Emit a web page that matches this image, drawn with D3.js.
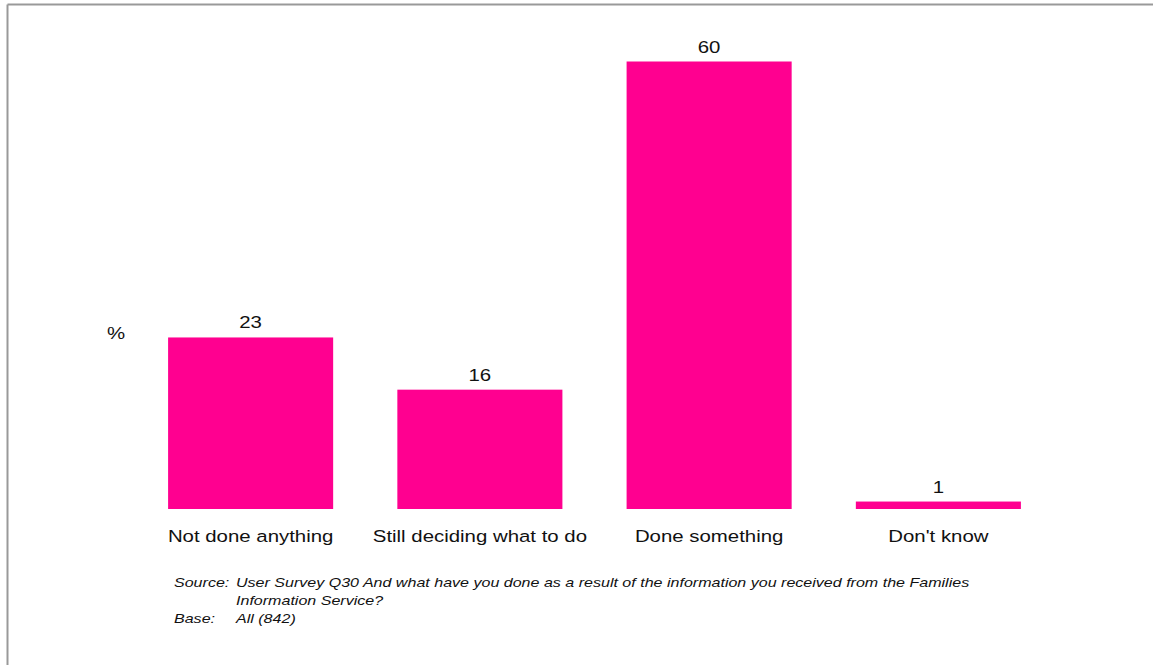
<!DOCTYPE html>
<html>
<head>
<meta charset="utf-8">
<script src="https://cdn.jsdelivr.net/npm/d3@7"></script>
<style>
  html, body { margin: 0; padding: 0; background: #fff; }
  svg { display: block; font-family: "Liberation Sans", Arial, sans-serif; }
</style>
</head>
<body>
<svg id="chart" width="1153" height="665"></svg>
<script>
// Survey responses: what people did after receiving FIS information (%)
const categories = ["Not done anything", "Still deciding what to do", "Done something", "Don't know"];
const values = [23, 16, 60, 1];
const unitLabel = "%";
const sourceLines = [
  ["Source:", "User Survey Q30 And what have you done as a result of the information you received from the Families"],
  ["", "Information Service?"],
  ["Base:", "All (842)"]
];

const svg = d3.select("#chart");
const W = 1153, H = 665;
const stretch = 1.2;      // text is set slightly wide
const noteStretch = 1.235;

// Frame lines (top and left)
svg.append("line").attr("x1", 7.5).attr("x2", W).attr("y1", 4.5).attr("y2", 4.5)
  .attr("stroke", "#999").attr("stroke-width", 2);
svg.append("line").attr("x1", 7.5).attr("x2", 7.5).attr("y1", 4.5).attr("y2", H)
  .attr("stroke", "#999").attr("stroke-width", 2);

const x = d3.scaleBand().domain(categories).range([136, 1053]).paddingInner(0.28).paddingOuter(0.14);
const y = d3.scaleLinear().domain([0, 60]).range([509, 61.5]);

const pink = "#ff0090";

svg.append("g").selectAll("rect").data(values).join("rect")
  .attr("x", (d, i) => x(categories[i]))
  .attr("width", x.bandwidth())
  .attr("y", d => y(d))
  .attr("height", d => y(0) - y(d))
  .attr("fill", pink);

// Value labels above each bar
svg.append("g").selectAll("text").data(values).join("text")
  .attr("transform", (d, i) => `translate(${x(categories[i]) + x.bandwidth() / 2},${y(d) - 9}) scale(${stretch},1)`)
  .attr("text-anchor", "middle")
  .attr("font-size", 17)
  .attr("fill", "#111")
  .text(d => d);

// Category axis labels
const xAxis = d3.axisBottom(x).tickSize(0).tickPadding(0);
const gx = svg.append("g").attr("transform", "translate(0,530)").call(xAxis);
gx.select(".domain").remove();
gx.selectAll("text").attr("font-size", 17).attr("fill", "#111")
  .attr("font-family", "Liberation Sans, Arial, sans-serif")
  .attr("transform", `scale(${stretch},1)`);

// Unit label
svg.append("text").attr("transform", `translate(107,339) scale(${stretch},1)`)
  .attr("font-size", 17).attr("fill", "#111").text(unitLabel);

// Source / base notes
const notes = svg.append("g").attr("font-size", 13).attr("font-style", "italic").attr("fill", "#111");
sourceLines.forEach((row, i) => {
  const yy = 587 + i * 17.8;
  notes.append("text").attr("transform", `translate(174,${yy}) scale(${noteStretch},1)`).text(row[0]);
  notes.append("text").attr("transform", `translate(236,${yy}) scale(${noteStretch},1)`).text(row[1]);
});
</script>
</body>
</html>
